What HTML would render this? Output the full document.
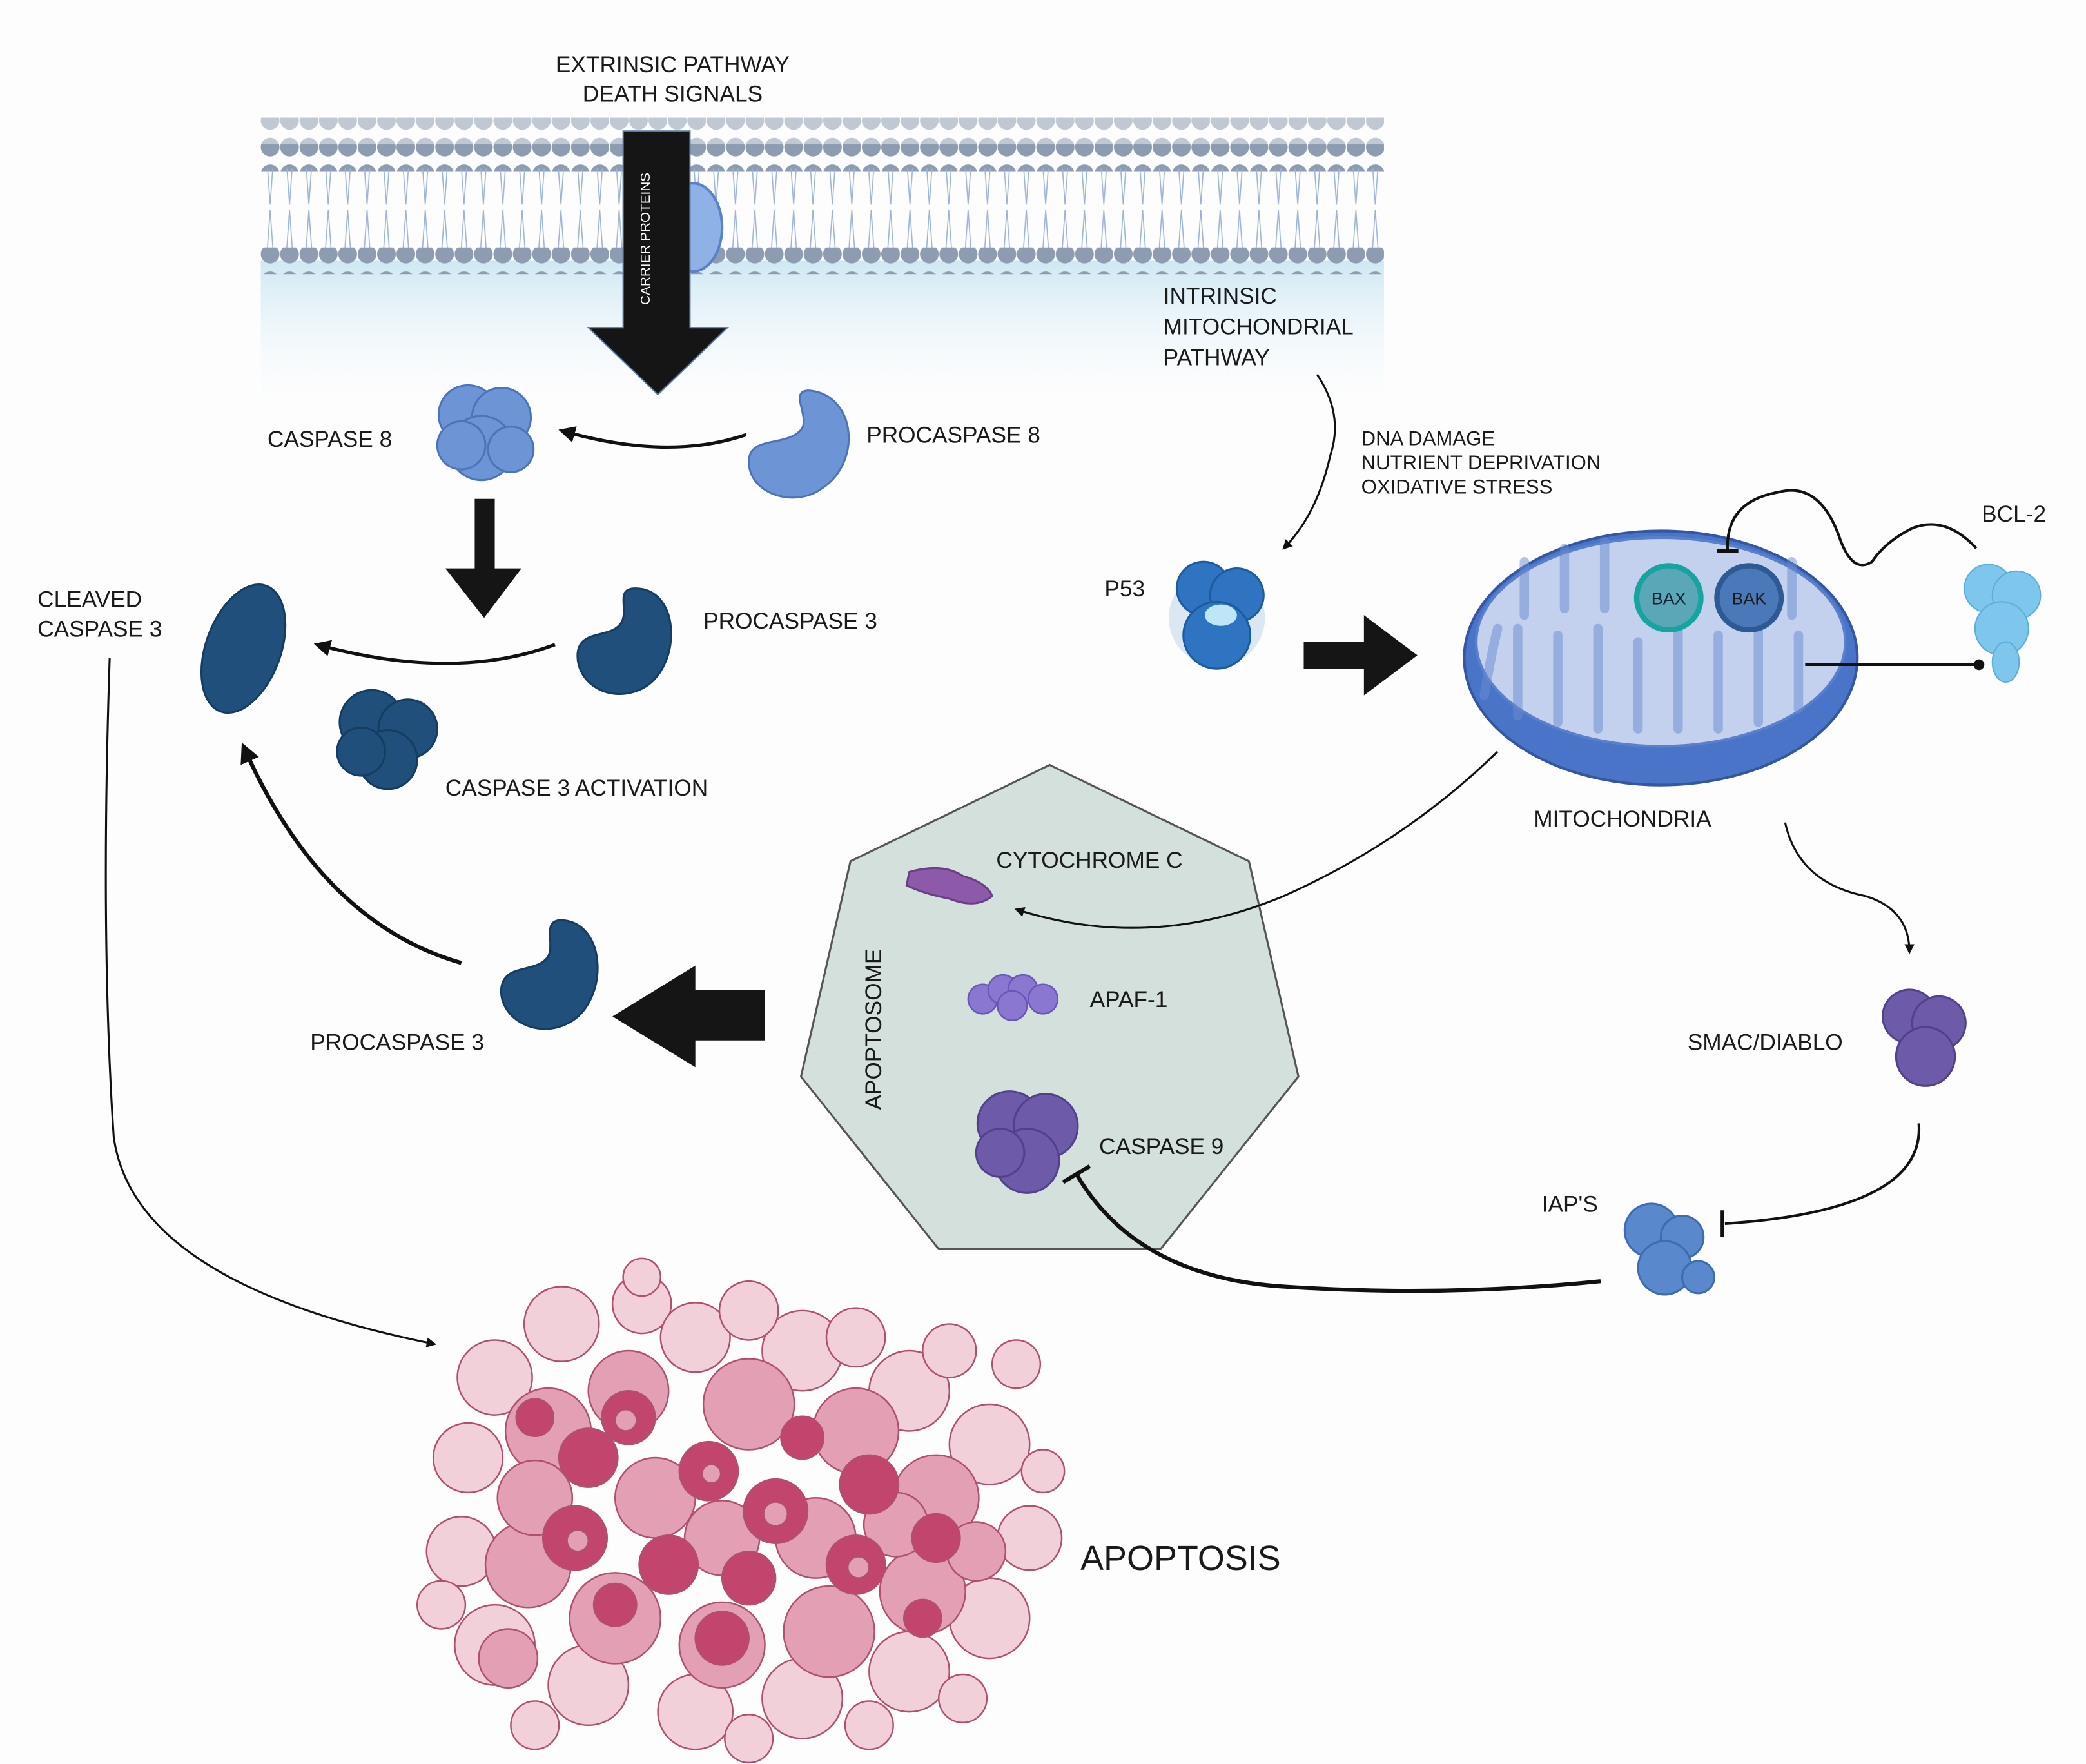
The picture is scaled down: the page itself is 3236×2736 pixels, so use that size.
<!DOCTYPE html>
<html><head><meta charset="utf-8"><style>
html,body{margin:0;padding:0;background:#fdfdfd}
svg{display:block}
text{font-family:"Liberation Sans",sans-serif;fill:#1a1a1a}
</style></head><body>
<svg width="3236" height="2736" viewBox="0 0 1560 1319" xmlns="http://www.w3.org/2000/svg">
<defs>
<linearGradient id="cyto" x1="0" y1="0" x2="0" y2="1">
<stop offset="0" stop-color="#cfe8f3"/><stop offset="1" stop-color="#ffffff" stop-opacity="0"/></linearGradient>
<marker id="ah" viewBox="0 0 10 10" refX="8" refY="5" markerWidth="5" markerHeight="5" orient="auto"><path d="M0,0L10,5L0,10z" fill="#111"/></marker>
<pattern id="heads" width="14.5" height="20" patternUnits="userSpaceOnUse" x="195" y="0">
<circle cx="7" cy="10" r="7" fill="#8d9cb0"/></pattern>
<pattern id="tails" width="14.5" height="60" patternUnits="userSpaceOnUse" x="195" y="125">
<path d="M5,0 L7,28 M9,0 L7,28 M5,60 L7,32 M9,60 L7,32" stroke="#9db4d6" stroke-width="0.8" fill="none"/></pattern>
</defs>
<rect x="0" y="0" width="1560" height="1319" fill="#fdfdfd"/>
<rect x="195" y="195" width="840" height="120" fill="url(#cyto)"/>
<rect x="195" y="88" width="840" height="20" fill="url(#heads)" opacity="0.55"/>
<rect x="195" y="108" width="840" height="20" fill="url(#heads)"/>
<rect x="195" y="126" width="840" height="60" fill="url(#tails)"/>
<rect x="195" y="185" width="840" height="20" fill="url(#heads)"/>
<ellipse cx="518" cy="170" rx="22" ry="33" fill="#8fb2e6" stroke="#5a82c8" stroke-width="2"/>
<path d="M466,98H516V245H544L492,295L440,245H466Z" fill="#151515" stroke="#5577aa" stroke-width="1"/>
<text x="0" y="0" transform="translate(486,228) rotate(-90)" font-size="10" style="fill:#fff">CARRIER PROTEINS</text>
<text x="503" y="54" font-size="17" text-anchor="middle">EXTRINSIC PATHWAY</text>
<text x="503" y="76" font-size="17" text-anchor="middle">DEATH SIGNALS</text>

<g fill="#6d95d6" stroke="#4e74b8" stroke-width="1.5">
<circle cx="350" cy="310" r="22"/><circle cx="375" cy="312" r="22"/><circle cx="360" cy="335" r="24"/><circle cx="345" cy="333" r="18"/><circle cx="382" cy="336" r="17"/></g>
<text x="200" y="334" font-size="17">CASPASE 8</text>
<path d="M605,292 C640,295 645,345 615,365 C595,380 560,370 560,345 C560,325 590,335 600,320 C605,310 590,292 605,292Z" fill="#6d95d6" stroke="#4e74b8" stroke-width="1.5"/>
<text x="648" y="331" font-size="17">PROCASPASE 8</text>
<path d="M558,325 Q500,345 420,322" stroke="#111" stroke-width="2.5" fill="none" marker-end="url(#ah)"/>
<path d="M355,373H370V425H390L362,462L333,425H355Z" fill="#151515"/>
<path d="M475,440 C510,440 510,500 480,515 C455,527 430,510 432,488 C434,470 458,478 465,465 C470,455 460,440 475,440Z" fill="#1f4f7a" stroke="#163c60" stroke-width="1.5"/>
<text x="526" y="470" font-size="17">PROCASPASE 3</text>
<path d="M415,482 Q340,510 237,482" stroke="#111" stroke-width="2.5" fill="none" marker-end="url(#ah)"/>
<ellipse cx="182" cy="485" rx="28" ry="50" transform="rotate(20 182 485)" fill="#1f4f7a" stroke="#163c60" stroke-width="1.5"/>
<text x="28" y="454" font-size="17">CLEAVED</text>
<text x="28" y="476" font-size="17">CASPASE 3</text>
<g fill="#1f4f7a" stroke="#163c60" stroke-width="1.5">
<circle cx="278" cy="540" r="24"/><circle cx="305" cy="545" r="22"/><circle cx="290" cy="568" r="22"/><circle cx="270" cy="562" r="18"/></g>
<text x="333" y="595" font-size="17">CASPASE 3 ACTIVATION</text>

<text x="870" y="227" font-size="17">INTRINSIC</text>
<text x="870" y="250" font-size="17">MITOCHONDRIAL</text>
<text x="870" y="273" font-size="17">PATHWAY</text>
<path d="M985,280 Q1005,310 995,340 Q985,385 960,410" stroke="#111" stroke-width="1.5" fill="none" marker-end="url(#ah)"/>
<text x="1018" y="333" font-size="15">DNA DAMAGE</text>
<text x="1018" y="351" font-size="15">NUTRIENT DEPRIVATION</text>
<text x="1018" y="369" font-size="15">OXIDATIVE STRESS</text>
<circle cx="910" cy="462" r="36" fill="#dbe8f3"/>
<g fill="#2f74c0" stroke="#1d5aa0" stroke-width="1.5">
<circle cx="900" cy="440" r="20"/><circle cx="925" cy="445" r="20"/><circle cx="910" cy="475" r="25"/></g>
<ellipse cx="913" cy="460" rx="12" ry="8" fill="#bfe6f7"/>
<text x="826" y="446" font-size="17">P53</text>
<path d="M975,480H1020V460L1060,490L1020,520V500H975Z" fill="#151515"/>
<ellipse cx="1242" cy="492" rx="147" ry="95" fill="#4a74c8" stroke="#3556a0" stroke-width="2"/>
<ellipse cx="1242" cy="480" rx="138" ry="78" fill="#c3d0ee" stroke="#5a80cc" stroke-width="2"/>
<path d="M1110,520 Q1115,490 1120,470 M1135,535 V470 M1165,540 V475 M1195,545 V470 M1225,545 V480 M1255,545 V470 M1285,545 V475 M1315,540 V470 M1345,530 V475 M1140,460 V420 M1170,455 V410 M1200,455 V405 M1340,460 V420" stroke="#6a8cd0" stroke-width="7" stroke-linecap="round" fill="none" opacity="0.5"/>
<circle cx="1248" cy="447" r="24" fill="#5aa7b8" stroke="#17a3a0" stroke-width="4"/>
<text x="1248" y="452" font-size="13" text-anchor="middle" style="fill:#123">BAX</text>
<circle cx="1308" cy="447" r="24" fill="#4a78b8" stroke="#2d5a95" stroke-width="4"/>
<text x="1308" y="452" font-size="13" text-anchor="middle">BAK</text>
<text x="1147" y="618" font-size="17">MITOCHONDRIA</text>
<g fill="#7ec6ec" stroke="#5aaedb" stroke-width="1">
<circle cx="1487" cy="440" r="18"/><circle cx="1508" cy="445" r="18"/><circle cx="1497" cy="470" r="20"/><ellipse cx="1500" cy="495" rx="10" ry="15"/></g>
<text x="1482" y="390" font-size="17">BCL-2</text>
<line x1="1350" y1="497" x2="1478" y2="497" stroke="#111" stroke-width="2"/>
<circle cx="1480" cy="497" r="4" fill="#111"/>
<path d="M1478,410 Q1455,385 1430,395 Q1410,405 1400,420 Q1385,430 1375,400 Q1360,360 1330,368 Q1290,375 1292,412" stroke="#111" stroke-width="2" fill="none"/>
<line x1="1284" y1="412" x2="1300" y2="412" stroke="#111" stroke-width="2.5"/>

<polygon points="785,572 934,644 971,805 868,934 702,934 599,805 636,644" fill="#d3e0dc" stroke="#555" stroke-width="1.5"/>
<text transform="translate(659,830) rotate(-90)" font-size="17">APOPTOSOME</text>
<path d="M680,652 Q705,645 720,655 Q738,660 742,670 Q730,680 710,672 Q690,668 678,662Z" fill="#8c5aa8" stroke="#6b3f88" stroke-width="1.5"/>
<text x="745" y="649" font-size="17">CYTOCHROME C</text>
<g fill="#8a78d0" stroke="#6a56b8" stroke-width="1.2">
<circle cx="735" cy="747" r="11"/><circle cx="750" cy="740" r="11"/><circle cx="765" cy="740" r="11"/><circle cx="780" cy="747" r="11"/><circle cx="757" cy="752" r="11"/></g>
<text x="815" y="753" font-size="17">APAF-1</text>
<g fill="#6d5aa8" stroke="#52418a" stroke-width="1.5">
<circle cx="755" cy="840" r="24"/><circle cx="782" cy="842" r="24"/><circle cx="768" cy="868" r="24"/><circle cx="748" cy="862" r="18"/></g>
<text x="822" y="863" font-size="17">CASPASE 9</text>
<path d="M1120,562 Q1050,630 960,670 Q860,712 760,680" stroke="#111" stroke-width="1.5" fill="none" marker-end="url(#ah)"/>
<path d="M572,740H520V722L458,760L520,798V778H572Z" fill="#151515"/>
<path d="M420,688 C455,690 455,750 425,765 C400,778 372,760 375,738 C378,720 402,728 410,715 C415,705 405,688 420,688Z" fill="#1f4f7a" stroke="#163c60" stroke-width="1.5"/>
<text x="232" y="785" font-size="17">PROCASPASE 3</text>
<path d="M345,720 Q240,690 182,558" stroke="#111" stroke-width="3" fill="none" marker-end="url(#ah)"/>
<path d="M1335,615 Q1345,660 1395,670 Q1428,680 1428,712" stroke="#111" stroke-width="1.5" fill="none" marker-end="url(#ah)"/>
<g fill="#6d5aa8" stroke="#52418a" stroke-width="1.5">
<circle cx="1428" cy="760" r="20"/><circle cx="1450" cy="765" r="20"/><circle cx="1440" cy="790" r="22"/></g>
<text x="1262" y="785" font-size="17">SMAC/DIABLO</text>
<path d="M1435,840 Q1440,905 1290,915" stroke="#111" stroke-width="2" fill="none"/>
<line x1="1288" y1="905" x2="1288" y2="925" stroke="#111" stroke-width="2.5"/>
<g fill="#5a88cc" stroke="#3f6bb0" stroke-width="1.5">
<circle cx="1235" cy="920" r="20"/><circle cx="1258" cy="925" r="16"/><circle cx="1245" cy="948" r="20"/><circle cx="1270" cy="955" r="12"/></g>
<text x="1153" y="906" font-size="17">IAP'S</text>
<path d="M1197,958 Q1080,970 960,962 Q850,955 805,878" stroke="#111" stroke-width="3" fill="none"/>
<line x1="795" y1="884" x2="815" y2="872" stroke="#111" stroke-width="3"/>
<path d="M82,492 Q75,700 85,850 Q100,960 325,1005" stroke="#111" stroke-width="1.5" fill="none" marker-end="url(#ah)"/>
<!-- apoptosis cluster -->
<g stroke="#b0506c" stroke-width="1.2">
<g fill="#f2d0da">
<circle cx="370" cy="1030" r="28"/><circle cx="420" cy="990" r="28"/><circle cx="480" cy="975" r="22"/><circle cx="520" cy="1000" r="26"/><circle cx="600" cy="1010" r="30"/><circle cx="680" cy="1040" r="30"/><circle cx="740" cy="1080" r="30"/><circle cx="770" cy="1150" r="24"/><circle cx="740" cy="1210" r="30"/><circle cx="680" cy="1250" r="30"/><circle cx="600" cy="1270" r="30"/><circle cx="520" cy="1280" r="28"/><circle cx="440" cy="1260" r="30"/><circle cx="370" cy="1230" r="30"/><circle cx="345" cy="1160" r="26"/><circle cx="350" cy="1090" r="26"/><circle cx="560" cy="1300" r="18"/><circle cx="480" cy="955" r="14"/>
<circle cx="560" cy="980" r="22"/><circle cx="640" cy="1000" r="22"/><circle cx="710" cy="1010" r="20"/><circle cx="760" cy="1020" r="18"/><circle cx="330" cy="1200" r="18"/><circle cx="400" cy="1290" r="18"/><circle cx="650" cy="1290" r="18"/><circle cx="720" cy="1270" r="18"/><circle cx="780" cy="1100" r="16"/></g>
<g fill="#e3a0b5">
<circle cx="410" cy="1070" r="32"/><circle cx="470" cy="1040" r="30"/><circle cx="560" cy="1050" r="34"/><circle cx="640" cy="1070" r="32"/><circle cx="700" cy="1120" r="32"/><circle cx="690" cy="1190" r="32"/><circle cx="620" cy="1220" r="34"/><circle cx="540" cy="1230" r="32"/><circle cx="460" cy="1210" r="34"/><circle cx="395" cy="1170" r="32"/><circle cx="400" cy="1120" r="28"/>
<circle cx="490" cy="1120" r="30"/><circle cx="610" cy="1150" r="30"/><circle cx="540" cy="1150" r="28"/><circle cx="670" cy="1140" r="24"/><circle cx="380" cy="1240" r="22"/><circle cx="730" cy="1160" r="22"/></g>
<g fill="#c2456e">
<circle cx="440" cy="1090" r="22"/><circle cx="470" cy="1060" r="20"/><circle cx="530" cy="1100" r="22"/><circle cx="580" cy="1130" r="24"/><circle cx="650" cy="1110" r="22"/><circle cx="430" cy="1150" r="24"/><circle cx="500" cy="1170" r="22"/><circle cx="560" cy="1180" r="20"/><circle cx="640" cy="1170" r="22"/><circle cx="700" cy="1150" r="18"/><circle cx="540" cy="1225" r="20"/><circle cx="600" cy="1075" r="16"/><circle cx="460" cy="1200" r="16"/><circle cx="690" cy="1210" r="14"/><circle cx="400" cy="1060" r="14"/></g>
<g fill="#e3a0b5">
<circle cx="468" cy="1062" r="8"/><circle cx="580" cy="1132" r="9"/><circle cx="432" cy="1152" r="8"/><circle cx="642" cy="1172" r="8"/><circle cx="532" cy="1102" r="7"/></g>
</g>
<text x="808" y="1174" font-size="26">APOPTOSIS</text>
</svg>
</body></html>
